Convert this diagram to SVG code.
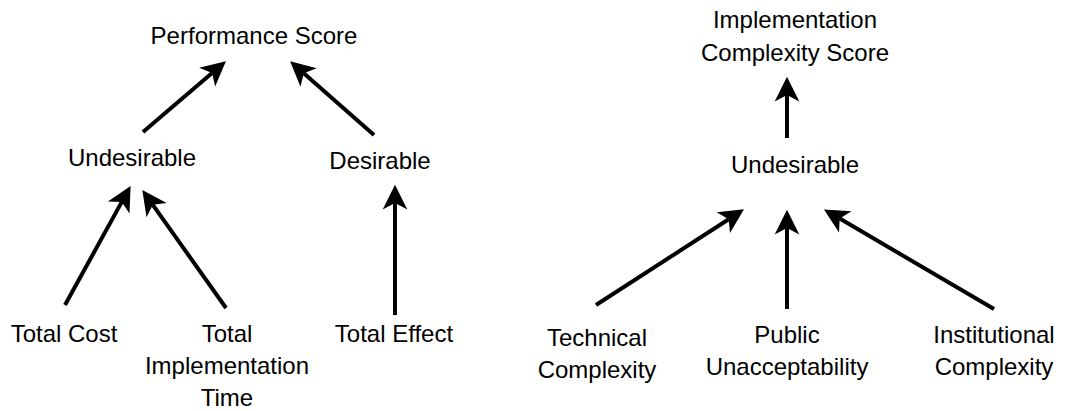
<svg xmlns="http://www.w3.org/2000/svg" width="1066" height="411" viewBox="0 0 1066 411">
  <style>
    text { font-family: "Liberation Sans", Arial, sans-serif; font-size: 24px; fill: #000; text-anchor: middle; }
    .edge { stroke: #000; stroke-width: 4; fill: none; marker-end: url(#head); }
  </style>
  <defs>
    <!-- notched arrowhead; the line ends at the notch, the tip sits 17px further on -->
    <marker id="head" markerUnits="userSpaceOnUse" markerWidth="30" markerHeight="30" viewBox="-8 -14 28 28" refX="0" refY="0" orient="auto">
      <path d="M17,0 L-6,-11.5 L0,0 L-6,11.5 Z" fill="#000"/>
    </marker>
  </defs>

  <!-- Performance tree -->
  <g id="performance-score"><text x="254" y="44">Performance Score</text></g>
  <g id="undesirable-left"><text x="132" y="166">Undesirable</text></g>
  <g id="desirable"><text x="380" y="169">Desirable</text></g>
  <g id="total-cost"><text x="64" y="342">Total Cost</text></g>
  <g id="total-implementation-time">
    <text x="227" y="342">Total</text>
    <text x="227" y="374">Implementation</text>
    <text x="227" y="406">Time</text>
  </g>
  <g id="total-effect"><text x="394" y="342">Total Effect</text></g>

  <!-- Implementation complexity tree -->
  <g id="implementation-complexity-score">
    <text x="795" y="28">Implementation</text>
    <text x="795" y="61">Complexity Score</text>
  </g>
  <g id="undesirable-right"><text x="795" y="173">Undesirable</text></g>
  <g id="technical-complexity">
    <text x="597" y="346">Technical</text>
    <text x="597" y="378">Complexity</text>
  </g>
  <g id="public-unacceptability">
    <text x="787" y="343">Public</text>
    <text x="787" y="375">Unacceptability</text>
  </g>
  <g id="institutional-complexity">
    <text x="994" y="343">Institutional</text>
    <text x="994" y="375">Complexity</text>
  </g>

  <g id="connectors">
    <line class="edge" x1="143" y1="132" x2="212.07" y2="73.04"/>
    <line class="edge" x1="374" y1="135" x2="303.77" y2="73.23"/>
    <line class="edge" x1="65" y1="305" x2="121.8" y2="201.9"/>
    <line class="edge" x1="226" y1="308" x2="152.84" y2="204.87"/>
    <line class="edge" x1="395" y1="315" x2="395" y2="203"/>
    <line class="edge" x1="787" y1="138" x2="787" y2="95"/>
    <line class="edge" x1="596" y1="305" x2="728.7" y2="219.2"/>
    <line class="edge" x1="787" y1="309" x2="787" y2="228"/>
    <line class="edge" x1="994" y1="309" x2="839.7" y2="218.6"/>
  </g>
</svg>
